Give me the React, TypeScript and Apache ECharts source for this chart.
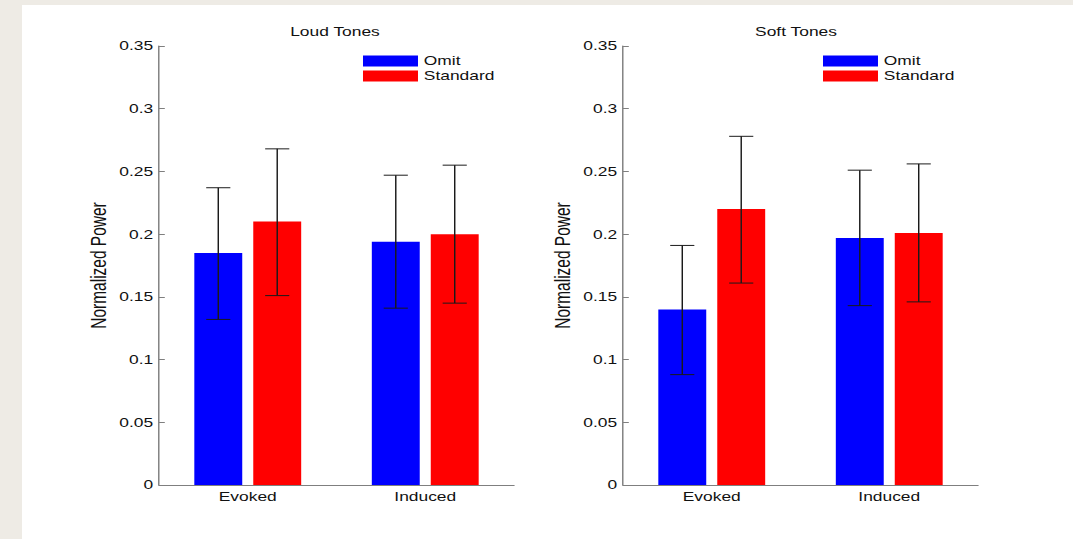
import React, { useEffect, useRef } from "react";
import * as echarts from "echarts";

const categories = ["Evoked", "Induced"];
const seriesNames = ["Omit", "Standard"];

const loudOmit = [0.185, 0.194];
const loudOmitLow = [0.132, 0.141];
const loudOmitHigh = [0.237, 0.247];
const loudStandard = [0.21, 0.2];
const loudStandardLow = [0.151, 0.145];
const loudStandardHigh = [0.268, 0.255];

const softOmit = [0.14, 0.197];
const softOmitLow = [0.088, 0.143];
const softOmitHigh = [0.191, 0.251];
const softStandard = [0.22, 0.201];
const softStandardLow = [0.161, 0.146];
const softStandardHigh = [0.278, 0.256];

const titles = ["Loud Tones", "Soft Tones"];
const yTicks = { min: 0, max: 0.35, interval: 0.05 };

const SX = 1.45; // horizontal stretch of the reference
const W = 1073;
const H = 539;
const FONT = "'Liberation Sans', Arial, Helvetica, sans-serif";
const BAR_FRAC = 0.27;
const GAP_FRAC = 0.23;

function errSeries(name: string, xi: number, yi: number, low: number[], high: number[], sign: number) {
  return {
    type: "custom",
    name: name + " err",
    xAxisIndex: xi,
    yAxisIndex: yi,
    z: 10,
    silent: true,
    encode: { x: 0, y: [1, 2] },
    data: low.map((l, i) => [i, l, high[i]]),
    renderItem: (params: any, api: any) => {
      const idx = api.value(0);
      const x0 = api.coord([idx, 0])[0];
      const band = api.size([1, 0])[0];
      const bw = band * BAR_FRAC;
      const cx = x0 + sign * (bw * (1 + GAP_FRAC)) / 2;
      const yl = api.coord([idx, api.value(1)])[1];
      const yh = api.coord([idx, api.value(2)])[1];
      const half = band * 0.068;
      const style = { stroke: "#1a1a1a", lineWidth: 1 };
      return {
        type: "group",
        children: [
          { type: "line", shape: { x1: cx, y1: yl, x2: cx, y2: yh }, style },
          { type: "line", shape: { x1: cx - half, y1: yh, x2: cx + half, y2: yh }, style },
          { type: "line", shape: { x1: cx - half, y1: yl, x2: cx + half, y2: yl }, style },
        ],
      };
    },
  };
}

export default function App() {
  const ref = useRef<HTMLDivElement>(null);
  useEffect(() => {
    if (!ref.current) return;
    const chart = echarts.init(ref.current, null, { renderer: "svg" });
    const gridLefts = [159 / SX, 623 / SX];
    const gridW = 355 / SX;
    const titleCenters = [335 / SX, 796 / SX];
    const axisColor = "#7f7f7f";
    const option: any = {
      animation: false,
      backgroundColor: "transparent",
      textStyle: { fontFamily: FONT },
      title: titles.map((t, i) => ({
        text: t,
        left: titleCenters[i],
        textAlign: "center",
        top: 26,
        padding: 0,
        textStyle: { fontFamily: FONT, fontSize: 12, fontWeight: "normal", color: "#111" },
      })),
      legend: [0, 1].map((i) => ({
        data: seriesNames,
        orient: "vertical",
        left: [363 / SX, 823 / SX][i],
        top: 55,
        padding: 0,
        itemWidth: 55 / SX,
        itemHeight: 11,
        itemGap: 3,
        icon: "rect",
        selectedMode: false,
        textStyle: { fontFamily: FONT, fontSize: 12, color: "#111", lineHeight: 12, padding: [0, 0, 0, -1] },
      })),
      grid: gridLefts.map((l) => ({ left: l, width: gridW, top: 46, height: 439 })),
      xAxis: [0, 1].map((i) => ({
        type: "category",
        gridIndex: i,
        data: categories,
        axisLine: { lineStyle: { color: axisColor, width: 1 } },
        axisTick: { inside: true, alignWithLabel: true, length: 5, lineStyle: { color: axisColor } },
        axisLabel: { fontFamily: FONT, fontSize: 12, color: "#111", margin: 6 },
        splitLine: { show: false },
      })),
      yAxis: [0, 1].map((i) => ({
        type: "value",
        gridIndex: i,
        min: yTicks.min,
        max: yTicks.max,
        interval: yTicks.interval,
        name: "Normalized Power",
        nameLocation: "middle",
        nameGap: 34,
        nameTextStyle: { fontFamily: FONT, fontSize: 15.5, color: "#111" },
        axisLine: { show: true, lineStyle: { color: axisColor, width: 1 } },
        axisTick: { show: true, inside: true, length: 4, lineStyle: { color: axisColor } },
        axisLabel: { fontFamily: FONT, fontSize: 12, color: "#111", margin: 4 },
        splitLine: { show: false },
      })),
      series: [
        { type: "bar", name: "Omit", xAxisIndex: 0, yAxisIndex: 0, data: loudOmit, barWidth: BAR_FRAC * 100 + "%", barGap: GAP_FRAC * 100 + "%", itemStyle: { color: "#0000ff" } },
        { type: "bar", name: "Standard", xAxisIndex: 0, yAxisIndex: 0, data: loudStandard, barWidth: BAR_FRAC * 100 + "%", barGap: GAP_FRAC * 100 + "%", itemStyle: { color: "#ff0000" } },
        { type: "bar", name: "Omit", xAxisIndex: 1, yAxisIndex: 1, data: softOmit, barWidth: BAR_FRAC * 100 + "%", barGap: GAP_FRAC * 100 + "%", itemStyle: { color: "#0000ff" } },
        { type: "bar", name: "Standard", xAxisIndex: 1, yAxisIndex: 1, data: softStandard, barWidth: BAR_FRAC * 100 + "%", barGap: GAP_FRAC * 100 + "%", itemStyle: { color: "#ff0000" } },
        errSeries("Omit", 0, 0, loudOmitLow, loudOmitHigh, -1),
        errSeries("Standard", 0, 0, loudStandardLow, loudStandardHigh, 1),
        errSeries("Omit", 1, 1, softOmitLow, softOmitHigh, -1),
        errSeries("Standard", 1, 1, softStandardLow, softStandardHigh, 1),
      ],
    };
    chart.setOption(option);
    return () => chart.dispose();
  }, []);

  return (
    <div style={{ position: "fixed", left: 0, top: 0, width: W, height: H, background: "#eeebe5", overflow: "hidden" }}>
      <div style={{ position: "absolute", left: 22, top: 5, right: 0, bottom: 0, background: "#ffffff" }} />
      <div
        ref={ref}
        style={{
          position: "absolute",
          left: 0,
          top: 0,
          width: W / SX,
          height: H,
          transform: `scaleX(${SX})`,
          transformOrigin: "0 0",
        }}
      />
    </div>
  );
}
